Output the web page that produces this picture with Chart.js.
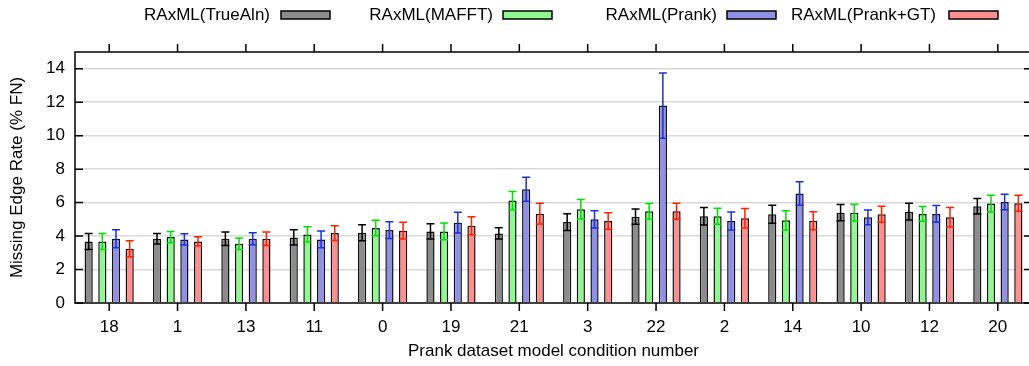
<!DOCTYPE html>
<html><head><meta charset="utf-8">
<script src="https://cdn.jsdelivr.net/npm/chart.js@4/dist/chart.umd.min.js"></script>
<style>
html,body{margin:0;padding:0;overflow:hidden;background:#fff;width:1029px;height:366px}
#wrap{width:1040px;height:366px;position:relative}
</style>
</head><body><div id="wrap"><canvas id="c" width="1040" height="366"></canvas></div>
<script>
const categories = ['18','1','13','11','0','19','21','3','22','2','14','10','12','20'];
const seriesNames = ['RAxML(TrueAln)','RAxML(MAFFT)','RAxML(Prank)','RAxML(Prank+GT)'];
const trueAln    = [3.68,3.84,3.84,3.92,4.20,4.28,4.16,4.84,5.16,5.18,5.30,5.40,5.46,5.78];
const trueAlnErr = [0.48,0.32,0.40,0.46,0.48,0.46,0.34,0.50,0.46,0.52,0.54,0.48,0.50,0.46];
const mafft      = [3.68,3.94,3.54,4.10,4.48,4.28,6.12,5.60,5.48,5.18,4.94,5.40,5.32,5.94];
const mafftErr   = [0.48,0.34,0.34,0.46,0.46,0.50,0.54,0.58,0.46,0.48,0.58,0.50,0.44,0.50];
const prank      = [3.84,3.80,3.84,3.80,4.36,4.80,6.80,5.00,11.80,4.90,6.54,5.12,5.32,6.04];
const prankErr   = [0.54,0.34,0.36,0.50,0.50,0.62,0.72,0.52,1.95,0.54,0.70,0.44,0.50,0.46];
const prankGT    = [3.24,3.68,3.84,4.18,4.32,4.62,5.34,4.90,5.48,5.06,4.92,5.30,5.12,5.96];
const prankGTErr = [0.48,0.28,0.40,0.44,0.50,0.54,0.62,0.50,0.48,0.58,0.54,0.48,0.58,0.48];
const yTicks = [0,2,4,6,8,10,12,14];
const xTitle = 'Prank dataset model condition number';
const yTitle = 'Missing Edge Rate (% FN)';

const fills = ['#8c8c8c','#90f890','#9090e6','#fc9090'];
const errColors = ['#000000','#00e000','#1a30d8','#ff2000'];
const values = [trueAln, mafft, prank, prankGT];
const errors = [trueAlnErr, mafftErr, prankErr, prankGTErr];
const FONT = '"Liberation Sans", Arial, Helvetica, sans-serif';

const decor = {
  id: 'decor',
  afterDatasetsDraw(chart) {
    const ctx = chart.ctx, ys = chart.scales.y;
    ctx.save();
    values.forEach((vals, d) => {
      const meta = chart.getDatasetMeta(d);
      ctx.strokeStyle = errColors[d];
      ctx.lineWidth = 1.5;
      meta.data.forEach((el, j) => {
        const x = el.x, e = errors[d][j], v = vals[j];
        const yt = ys.getPixelForValue(v + e), yb = ys.getPixelForValue(v - e);
        ctx.beginPath();
        ctx.moveTo(x, yt); ctx.lineTo(x, yb);
        ctx.moveTo(x - 4, yt); ctx.lineTo(x + 4, yt);
        ctx.moveTo(x - 4, yb); ctx.lineTo(x + 4, yb);
        ctx.stroke();
      });
    });
    ctx.restore();
  },
  afterDraw(chart) {
    const ctx = chart.ctx, a = chart.chartArea, xs = chart.scales.x, ys = chart.scales.y;
    ctx.save();
    ctx.strokeStyle = '#000';
    ctx.lineWidth = 1.5;
    ctx.strokeRect(a.left, a.top, a.right - a.left, a.bottom - a.top);
    ctx.beginPath();
    categories.forEach((c, i) => {
      const x = xs.getPixelForValue(i);
      ctx.moveTo(x, a.bottom); ctx.lineTo(x, a.bottom + 8);
      ctx.moveTo(x, a.top); ctx.lineTo(x, a.top - 8);
    });
    yTicks.forEach(v => {
      const y = ys.getPixelForValue(v);
      ctx.moveTo(a.left, y); ctx.lineTo(a.left + 8, y);
      ctx.moveTo(a.right, y); ctx.lineTo(a.right - 8, y);
    });
    ctx.stroke();
    // legend (text to the left of the swatch, gnuplot style)
    const swX = [281, 503, 727, 949], txR = [270, 493, 717, 936];
    ctx.font = '17px ' + FONT;
    ctx.textAlign = 'right';
    ctx.textBaseline = 'middle';
    chart.data.datasets.forEach((ds, i) => {
      ctx.fillStyle = '#000';
      ctx.fillText(ds.label, txR[i], 15);
      ctx.fillStyle = ds.backgroundColor;
      ctx.fillRect(swX[i], 11, 49, 8);
      ctx.strokeRect(swX[i], 11, 49, 8);
    });
    ctx.restore();
  }
};

new Chart(document.getElementById('c'), {
  type: 'bar',
  data: {
    labels: categories,
    datasets: seriesNames.map((n, i) => ({
      label: n,
      data: values[i],
      backgroundColor: fills[i],
      borderColor: '#111',
      borderWidth: 1.5,
      categoryPercentage: 0.8,
      barPercentage: 0.6
    }))
  },
  options: {
    responsive: false,
    animation: false,
    layout: { padding: { left: 0, right: 8, top: 52, bottom: 0 } },
    plugins: { legend: { display: false }, tooltip: { enabled: false } },
    scales: {
      x: {
        type: 'category',
        offset: true,
        grid: { display: false, drawTicks: false },
        border: { display: false },
        ticks: { color: '#000', font: { family: FONT, size: 17 }, padding: 14, maxRotation: 0, autoSkip: false },
        title: { display: true, text: xTitle, color: '#000', font: { family: FONT, size: 17 }, padding: { top: 0, bottom: 4 } },
        afterFit: s => { s.height = 63; }
      },
      y: {
        min: 0, max: 15,
        afterBuildTicks: s => { s.ticks = yTicks.map(v => ({ value: v })); },
        grid: {
          drawTicks: false,
          color: c => (c.tick && c.tick.value === 0) ? 'rgba(0,0,0,0)' : '#d9d9d9',
          lineWidth: 1.5
        },
        border: { display: false },
        ticks: { color: '#000', font: { family: FONT, size: 17 }, padding: 10 },
        title: { display: true, text: yTitle, color: '#000', font: { family: FONT, size: 17 }, padding: { top: 7, bottom: 0 } },
        afterFit: s => { s.width = 75; }
      }
    }
  },
  plugins: [decor]
});
</script>
</body></html>
